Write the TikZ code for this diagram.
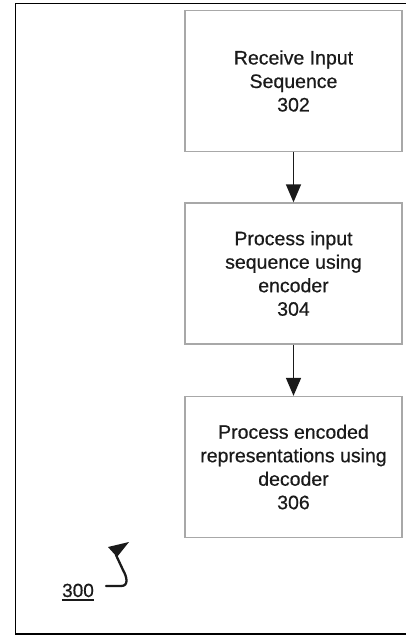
\documentclass[tikz,border=0pt]{standalone}
\usepackage{fontspec}
\setmainfont{Liberation Sans}
\newfontfamily\heavysans{Liberation Sans}[FakeBold=0.6]
\usetikzlibrary{arrows.meta}
\definecolor{boxgray}{HTML}{A8A8A8}
\definecolor{ink}{HTML}{1A1A1A}
\tikzset{
  stepbox/.style={draw=boxgray, line width=1.3pt, minimum width=217pt, minimum height=141pt,
    inner sep=0pt, align=center, text=ink, font=\heavysans\fontsize{19.5}{23.5}\selectfont},
  flow/.style={draw=ink, line width=1.5pt, -{Triangle[length=18pt,width=15pt]}},
  frame/.style={draw=black, line width=1.4pt},
  lead/.style={draw=ink, line width=2.3pt, line cap=round, line join=round}
}
\begin{document}
\begin{tikzpicture}[x=1pt,y=-1pt]
\useasboundingbox (0,0) rectangle (405,636);
\draw[frame] (406,3.3) -- (15.3,3.3) -- (15.3,634) -- (406,634);

\node[stepbox] (s302) at (293.5,81) {Receive Input\\Sequence\\302};
\node[stepbox] (s304) at (293.5,273.5) {Process input\\sequence using\\encoder\\304};
\node[stepbox] (s306) at (293.5,467) {Process encoded\\representations using\\decoder\\306};

\draw[flow] (s302) -- (s304);
\draw[flow] (s304) -- (s306);

\node[inner sep=0pt, anchor=base, text=ink, font=\heavysans\fontsize{19}{23}\selectfont] (lbl) at (78,597) {300};
\draw[ink, line width=1.5pt] ([yshift=-3pt]lbl.base west) -- ([yshift=-3pt]lbl.base east);

\coordinate (l0) at (106,586);
\coordinate (l1) at (121,586);
\coordinate (l2) at (123,570);
\coordinate (l3) at (116,555);
\draw[lead] (l0) -- (l1) .. controls (129,586) and (127,577) .. (l2) -- (l3);
\fill[ink] (108,547) -- (129,542) -- (117,557) -- cycle;
\end{tikzpicture}
\end{document}
